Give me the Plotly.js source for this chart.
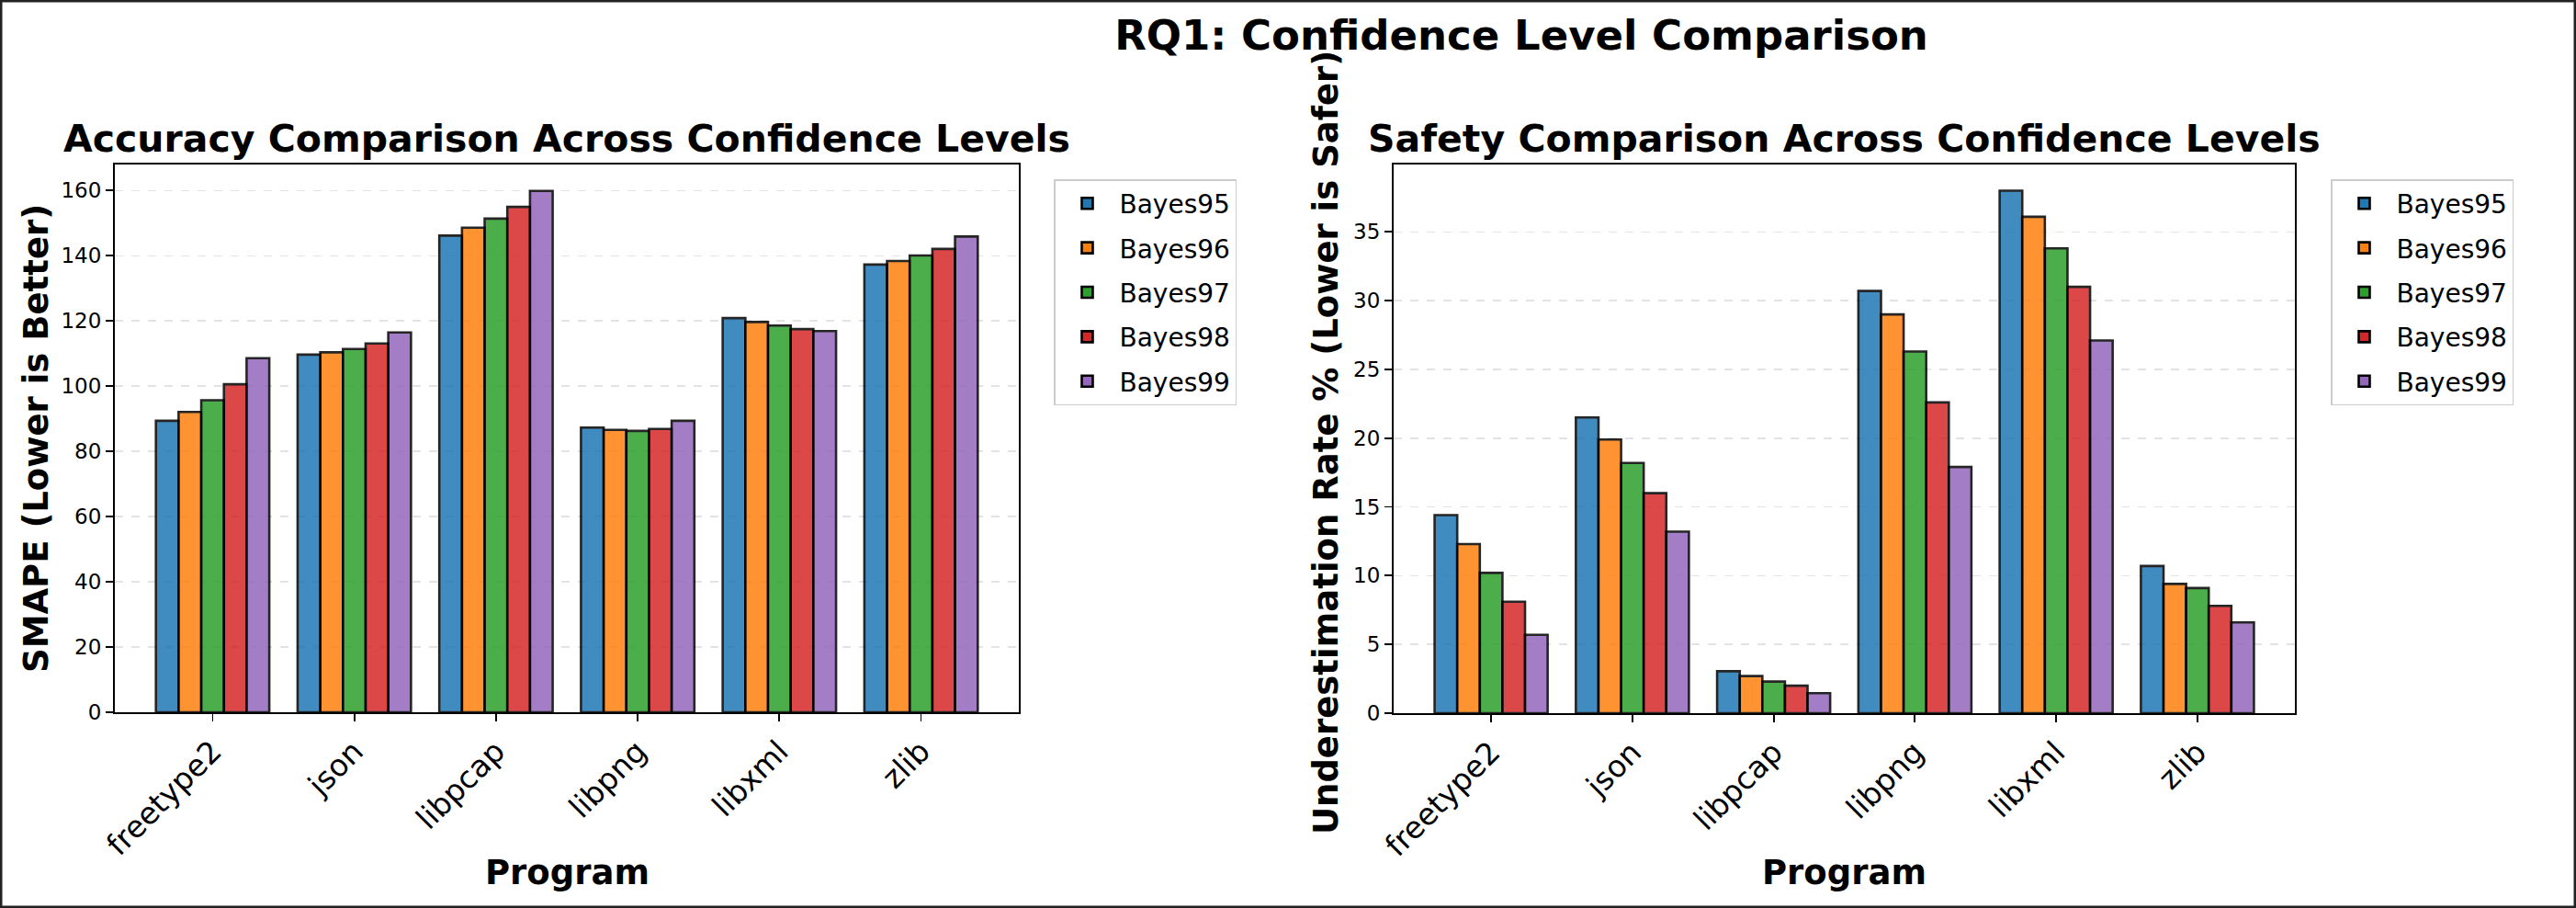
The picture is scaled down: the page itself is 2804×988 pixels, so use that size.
<!DOCTYPE html>
<html>
<head>
<meta charset="utf-8">
<script src="https://cdn.plot.ly/plotly-3.0.1.min.js"></script>
<style>
html,body{margin:0;padding:0;background:#fff;}
#chart{width:2804px;height:988px;}
</style>
</head>
<body>
<div id="chart"></div>
<script>
// ---- data ----
const categories = ['freetype2', 'json', 'libpcap', 'libpng', 'libxml', 'zlib'];
const seriesNames = ['Bayes95', 'Bayes96', 'Bayes97', 'Bayes98', 'Bayes99'];

const smape95 = [89.4, 109.7, 146.2, 87.3, 120.9, 137.3];
const smape96 = [92.1, 110.4, 148.6, 86.6, 119.7, 138.4];
const smape97 = [95.7, 111.4, 151.4, 86.3, 118.6, 140.1];
const smape98 = [100.6, 113.1, 155.0, 86.9, 117.5, 142.1];
const smape99 = [108.6, 116.5, 159.9, 89.4, 116.9, 145.9];

const under95 = [14.4, 21.5, 3.05, 30.7, 38.0, 10.7];
const under96 = [12.3, 19.9, 2.7, 29.0, 36.1, 9.4];
const under97 = [10.2, 18.2, 2.3, 26.3, 33.8, 9.1];
const under98 = [8.1, 16.0, 2.0, 22.6, 31.0, 7.8];
const under99 = [5.7, 13.2, 1.45, 17.9, 27.1, 6.6];

const smapeSeries = [smape95, smape96, smape97, smape98, smape99];
const underSeries = [under95, under96, under97, under98, under99];
const colors = ['#1f77b4', '#ff7f0e', '#2ca02c', '#d62728', '#9467bd'];

// ---- layout helpers ----
const W = 2804, H = 988;
const px = v => v / W;
const py = v => 1 - v / H;
const FONT = 'DejaVu Sans, Arial, sans-serif';

const traces = [];
seriesNames.forEach((name, i) => {
  traces.push({
    type: 'bar', name: name, x: categories, y: smapeSeries[i],
    xaxis: 'x', yaxis: 'y', legend: 'legend', legendgroup: 'L' + i,
    marker: {color: colors[i], opacity: 0.85, line: {color: '#000', width: 2.6}},
    hoverinfo: 'x+y+name'
  });
});
seriesNames.forEach((name, i) => {
  traces.push({
    type: 'bar', name: name, x: categories, y: underSeries[i],
    xaxis: 'x2', yaxis: 'y2', legend: 'legend2', legendgroup: 'R' + i,
    marker: {color: colors[i], opacity: 0.85, line: {color: '#000', width: 2.6}},
    hoverinfo: 'x+y+name'
  });
});

const xCommon = {
  type: 'category', range: [-0.69, 5.69],
  showline: true, mirror: true, linecolor: '#000', linewidth: 2,
  ticks: 'outside', ticklen: 8, tickwidth: 1.8, tickcolor: '#000',
  tickangle: -45, tickfont: {family: FONT, size: 33, color: '#000'},
  showgrid: false, zeroline: false
};
const yCommon = {
  showline: true, mirror: true, linecolor: '#000', linewidth: 2,
  ticks: 'outside', ticklen: 8, tickwidth: 1.8, tickcolor: '#000',
  tickfont: {family: FONT, size: 23, color: '#000'},
  showgrid: true, gridcolor: '#e3e3e3', gridwidth: 1.6, griddash: 'dash',
  zeroline: false
};

const legendCommon = {
  bgcolor: '#ffffff', bordercolor: '#cccccc', borderwidth: 1.5,
  font: {family: FONT, size: 28, color: '#000'},
  xanchor: 'left', yanchor: 'top', tracegroupgap: 9,
  itemwidth: 60
};

const layout = {
  width: W, height: H,
  margin: {l: 0, r: 0, t: 0, b: 0},
  paper_bgcolor: '#fff', plot_bgcolor: '#fff',
  font: {family: FONT, color: '#000'},
  barmode: 'group', bargap: 0.2, bargroupgap: 0,
  title: {
    text: '<b>RQ1: Confidence Level Comparison</b>',
    font: {family: FONT, size: 45, color: '#000'},
    x: 1656 / W, xanchor: 'center', y: py(38), yanchor: 'middle',
    xref: 'paper', yref: 'paper'
  },
  xaxis: Object.assign({}, xCommon, {domain: [px(125), px(1109)], anchor: 'y'}),
  yaxis: Object.assign({}, yCommon, {domain: [1 - 775 / H, 1 - 179 / H], anchor: 'x', range: [0, 168], dtick: 20}),
  xaxis2: Object.assign({}, xCommon, {domain: [px(1517), px(2498)], anchor: 'y2'}),
  yaxis2: Object.assign({}, yCommon, {domain: [1 - 776 / H, 1 - 179 / H], anchor: 'x2', range: [0, 39.9], dtick: 5}),
  legend: Object.assign({}, legendCommon, {x: px(1147), y: py(195)}),
  legend2: Object.assign({}, legendCommon, {x: px(2537), y: py(195)}),
  annotations: [
    {text: '<b>Accuracy Comparison Across Confidence Levels</b>', xref: 'paper', yref: 'paper',
     x: px(617), y: py(151), xanchor: 'center', yanchor: 'middle', showarrow: false,
     font: {family: FONT, size: 41, color: '#000'}},
    {text: '<b>Safety Comparison Across Confidence Levels</b>', xref: 'paper', yref: 'paper',
     x: px(2007), y: py(151), xanchor: 'center', yanchor: 'middle', showarrow: false,
     font: {family: FONT, size: 41, color: '#000'}},
    {text: '<b>Program</b>', xref: 'paper', yref: 'paper',
     x: px(617), y: py(949), xanchor: 'center', yanchor: 'middle', showarrow: false,
     font: {family: FONT, size: 37, color: '#000'}},
    {text: '<b>Program</b>', xref: 'paper', yref: 'paper',
     x: px(2007), y: py(949), xanchor: 'center', yanchor: 'middle', showarrow: false,
     font: {family: FONT, size: 37, color: '#000'}},
    {text: '<b>SMAPE (Lower is Better)</b>', xref: 'paper', yref: 'paper',
     x: px(40), y: py(477), xanchor: 'center', yanchor: 'middle', showarrow: false, textangle: -90,
     font: {family: FONT, size: 37, color: '#000'}},
    {text: '<b>Underestimation Rate % (Lower is Safer)</b>', xref: 'paper', yref: 'paper',
     x: px(1443), y: py(482), xanchor: 'center', yanchor: 'middle', showarrow: false, textangle: -90,
     font: {family: FONT, size: 37, color: '#000'}}
  ],
  shapes: [
    {type: 'rect', xref: 'paper', yref: 'paper', x0: 0, x1: 1, y0: 0, y1: 1,
     line: {color: '#222', width: 5}, fillcolor: 'rgba(0,0,0,0)', layer: 'above'}
  ]
};

Plotly.newPlot('chart', traces, layout, {staticPlot: true, displayModeBar: false});
</script>
</body>
</html>
